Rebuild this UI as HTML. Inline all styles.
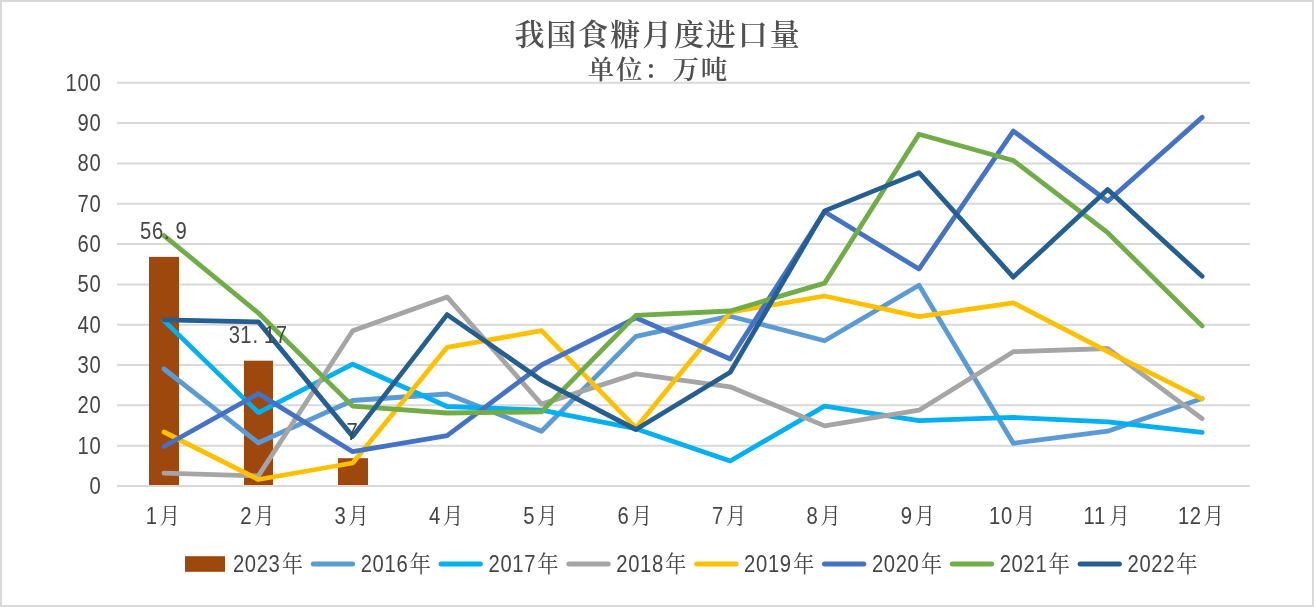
<!DOCTYPE html>
<html lang="zh-CN"><head><meta charset="utf-8"><title>我国食糖月度进口量</title>
<style>html,body{margin:0;padding:0;background:#fff}body{width:1314px;height:607px;overflow:hidden}svg{display:block}text{font-family:"Liberation Sans", "Noto Serif CJK SC", sans-serif;fill:#454545} .t{font-family:"Liberation Serif", "Noto Serif CJK SC", serif;font-weight:600;fill:#505050}</style></head><body>
<svg width="1314" height="607" viewBox="0 0 1314 607">
<rect x="0" y="0" width="1314" height="607" fill="#fff"/>
<rect x="1" y="1" width="1312" height="605" fill="none" stroke="#D9D9D9" stroke-width="2"/>
<g stroke="#D9D9D9" stroke-width="2">
<line x1="117.0" y1="486.0" x2="1250.0" y2="486.0"/>
<line x1="117.0" y1="445.7" x2="1250.0" y2="445.7"/>
<line x1="117.0" y1="405.3" x2="1250.0" y2="405.3"/>
<line x1="117.0" y1="365.0" x2="1250.0" y2="365.0"/>
<line x1="117.0" y1="324.7" x2="1250.0" y2="324.7"/>
<line x1="117.0" y1="284.4" x2="1250.0" y2="284.4"/>
<line x1="117.0" y1="244.0" x2="1250.0" y2="244.0"/>
<line x1="117.0" y1="203.7" x2="1250.0" y2="203.7"/>
<line x1="117.0" y1="163.4" x2="1250.0" y2="163.4"/>
<line x1="117.0" y1="123.0" x2="1250.0" y2="123.0"/>
<line x1="117.0" y1="82.7" x2="1250.0" y2="82.7"/>
</g>
<g>
<text transform="translate(101.3,493.8) scale(0.907,1.065)" font-size="22.3" letter-spacing="0.72" text-anchor="end">0</text>
<text transform="translate(101.3,453.5) scale(0.907,1.065)" font-size="22.3" letter-spacing="0.72" text-anchor="end">10</text>
<text transform="translate(101.3,413.1) scale(0.907,1.065)" font-size="22.3" letter-spacing="0.72" text-anchor="end">20</text>
<text transform="translate(101.3,372.8) scale(0.907,1.065)" font-size="22.3" letter-spacing="0.72" text-anchor="end">30</text>
<text transform="translate(101.3,332.5) scale(0.907,1.065)" font-size="22.3" letter-spacing="0.72" text-anchor="end">40</text>
<text transform="translate(101.3,292.2) scale(0.907,1.065)" font-size="22.3" letter-spacing="0.72" text-anchor="end">50</text>
<text transform="translate(101.3,251.8) scale(0.907,1.065)" font-size="22.3" letter-spacing="0.72" text-anchor="end">60</text>
<text transform="translate(101.3,211.5) scale(0.907,1.065)" font-size="22.3" letter-spacing="0.72" text-anchor="end">70</text>
<text transform="translate(101.3,171.2) scale(0.907,1.065)" font-size="22.3" letter-spacing="0.72" text-anchor="end">80</text>
<text transform="translate(101.3,130.8) scale(0.907,1.065)" font-size="22.3" letter-spacing="0.72" text-anchor="end">90</text>
<text transform="translate(101.3,90.5) scale(0.907,1.065)" font-size="22.3" letter-spacing="0.72" text-anchor="end">100</text>
</g>
<g fill="#9E480E">
<rect x="149" y="256.9" width="30" height="229.1"/>
<rect x="244" y="360.7" width="29" height="125.3"/>
<rect x="338" y="458.2" width="30" height="27.8"/>
</g>
<line x1="117.0" y1="486.0" x2="1250.0" y2="486.0" stroke="#D9D9D9" stroke-width="2"/>
<g fill="none" stroke-width="4.8" stroke-linecap="round" stroke-linejoin="round">
<polyline stroke="#5B9BD5" points="164.0,369.0 258.4,442.8 352.7,400.5 447.1,394.0 541.5,431.2 635.9,336.4 730.2,316.2 824.6,340.8 919.0,285.2 1013.3,443.3 1107.7,431.2 1202.1,398.5"/>
<polyline stroke="#00B0F0" points="164.0,320.6 258.4,412.6 352.7,364.2 447.1,406.5 541.5,410.2 635.9,428.7 730.2,461.0 824.6,406.1 919.0,420.7 1013.3,417.4 1107.7,421.9 1202.1,432.4"/>
<polyline stroke="#A5A5A5" points="164.0,473.1 258.4,475.9 352.7,330.7 447.1,296.9 541.5,404.1 635.9,373.9 730.2,386.8 824.6,425.9 919.0,410.2 1013.3,351.7 1107.7,348.5 1202.1,418.6"/>
<polyline stroke="#FFC000" points="164.0,432.0 258.4,479.5 352.7,463.0 447.1,347.3 541.5,330.7 635.9,427.9 730.2,312.2 824.6,296.0 919.0,316.6 1013.3,302.9 1107.7,351.7 1202.1,398.9"/>
<polyline stroke="#4472C4" points="164.0,446.5 258.4,393.6 352.7,451.7 447.1,435.6 541.5,365.0 635.9,317.8 730.2,359.0 824.6,211.8 919.0,269.0 1013.3,131.1 1107.7,201.3 1202.1,117.4"/>
<polyline stroke="#70AD47" points="164.0,235.6 258.4,313.0 352.7,406.1 447.1,413.0 541.5,411.8 635.9,315.4 730.2,311.0 824.6,283.1 919.0,134.3 1013.3,160.5 1107.7,232.7 1202.1,325.9"/>
<polyline stroke="#255E91" points="164.0,319.8 258.4,321.9 352.7,436.4 447.1,314.6 541.5,380.3 635.9,429.5 730.2,372.3 824.6,210.9 919.0,172.6 1013.3,277.1 1107.7,189.6 1202.1,276.3"/>
</g>
<g font-size="22.3" text-anchor="middle">
<text transform="translate(0,238.9) scale(0.907,1.065)" x="160.7 173.7 183.9 199.6" y="0">56.9</text>
<text transform="translate(0,342.7) scale(0.907,1.065)" x="258.3 271.2 281.4 297.2 310.1" y="0">31.17</text>
<text transform="translate(0,440.2) scale(0.907,1.065)" x="388.2" y="0">7</text>
</g>
<g>
<text transform="translate(145.8,524.1) scale(0.907,1.065)" font-size="22.3" letter-spacing="0.72">1</text>
<text transform="translate(240.2,524.1) scale(0.907,1.065)" font-size="22.3" letter-spacing="0.72">2</text>
<text transform="translate(334.5,524.1) scale(0.907,1.065)" font-size="22.3" letter-spacing="0.72">3</text>
<text transform="translate(428.9,524.1) scale(0.907,1.065)" font-size="22.3" letter-spacing="0.72">4</text>
<text transform="translate(523.3,524.1) scale(0.907,1.065)" font-size="22.3" letter-spacing="0.72">5</text>
<text transform="translate(617.6,524.1) scale(0.907,1.065)" font-size="22.3" letter-spacing="0.72">6</text>
<text transform="translate(712.0,524.1) scale(0.907,1.065)" font-size="22.3" letter-spacing="0.72">7</text>
<text transform="translate(806.4,524.1) scale(0.907,1.065)" font-size="22.3" letter-spacing="0.72">8</text>
<text transform="translate(900.8,524.1) scale(0.907,1.065)" font-size="22.3" letter-spacing="0.72">9</text>
<text transform="translate(989.1,524.1) scale(0.907,1.065)" font-size="22.3" letter-spacing="0.72">10</text>
<text transform="translate(1083.5,524.1) scale(0.907,1.065)" font-size="22.3" letter-spacing="0.72">11</text>
<text transform="translate(1177.9,524.1) scale(0.907,1.065)" font-size="22.3" letter-spacing="0.72">12</text>
</g>
<g font-size="20.5">
<text transform="translate(159.6,524.0) scale(1,1.12)">月</text>
<text transform="translate(254.0,524.0) scale(1,1.12)">月</text>
<text transform="translate(348.3,524.0) scale(1,1.12)">月</text>
<text transform="translate(442.7,524.0) scale(1,1.12)">月</text>
<text transform="translate(537.1,524.0) scale(1,1.12)">月</text>
<text transform="translate(631.5,524.0) scale(1,1.12)">月</text>
<text transform="translate(725.8,524.0) scale(1,1.12)">月</text>
<text transform="translate(820.2,524.0) scale(1,1.12)">月</text>
<text transform="translate(914.6,524.0) scale(1,1.12)">月</text>
<text transform="translate(1014.8,524.0) scale(1,1.12)">月</text>
<text transform="translate(1109.2,524.0) scale(1,1.12)">月</text>
<text transform="translate(1203.6,524.0) scale(1,1.12)">月</text>
</g>
<rect x="185" y="556.2" width="40" height="15.6" fill="#9E480E"/>
<text transform="translate(232.9,571.5) scale(0.907,1.065)" font-size="22.3" letter-spacing="0.72">2023</text>
<text transform="translate(281.7,572.3) scale(1,1.04)" font-size="21.5">年</text>
<line x1="313.3" y1="564" x2="352.6" y2="564" stroke="#5B9BD5" stroke-width="5" stroke-linecap="round"/>
<text transform="translate(360.7,571.5) scale(0.907,1.065)" font-size="22.3" letter-spacing="0.72">2016</text>
<text transform="translate(409.5,572.3) scale(1,1.04)" font-size="21.5">年</text>
<line x1="441.1" y1="564" x2="480.4" y2="564" stroke="#00B0F0" stroke-width="5" stroke-linecap="round"/>
<text transform="translate(488.5,571.5) scale(0.907,1.065)" font-size="22.3" letter-spacing="0.72">2017</text>
<text transform="translate(537.3,572.3) scale(1,1.04)" font-size="21.5">年</text>
<line x1="568.9" y1="564" x2="608.2" y2="564" stroke="#A5A5A5" stroke-width="5" stroke-linecap="round"/>
<text transform="translate(616.3,571.5) scale(0.907,1.065)" font-size="22.3" letter-spacing="0.72">2018</text>
<text transform="translate(665.1,572.3) scale(1,1.04)" font-size="21.5">年</text>
<line x1="696.7" y1="564" x2="736.0" y2="564" stroke="#FFC000" stroke-width="5" stroke-linecap="round"/>
<text transform="translate(744.1,571.5) scale(0.907,1.065)" font-size="22.3" letter-spacing="0.72">2019</text>
<text transform="translate(792.9,572.3) scale(1,1.04)" font-size="21.5">年</text>
<line x1="824.5" y1="564" x2="863.8" y2="564" stroke="#4472C4" stroke-width="5" stroke-linecap="round"/>
<text transform="translate(871.9,571.5) scale(0.907,1.065)" font-size="22.3" letter-spacing="0.72">2020</text>
<text transform="translate(920.7,572.3) scale(1,1.04)" font-size="21.5">年</text>
<line x1="952.3" y1="564" x2="991.6" y2="564" stroke="#70AD47" stroke-width="5" stroke-linecap="round"/>
<text transform="translate(999.7,571.5) scale(0.907,1.065)" font-size="22.3" letter-spacing="0.72">2021</text>
<text transform="translate(1048.5,572.3) scale(1,1.04)" font-size="21.5">年</text>
<line x1="1080.1" y1="564" x2="1119.4" y2="564" stroke="#255E91" stroke-width="5" stroke-linecap="round"/>
<text transform="translate(1127.5,571.5) scale(0.907,1.065)" font-size="22.3" letter-spacing="0.72">2022</text>
<text transform="translate(1176.3,572.3) scale(1,1.04)" font-size="21.5">年</text>
<text class="t" x="658" y="45.2" font-size="30" letter-spacing="1.9" text-anchor="middle">我国食糖月度进口量</text>
<text class="t" x="658.4" y="79.3" font-size="26.5" letter-spacing="1.8" text-anchor="middle">单位：万吨</text>
</svg></body></html>
